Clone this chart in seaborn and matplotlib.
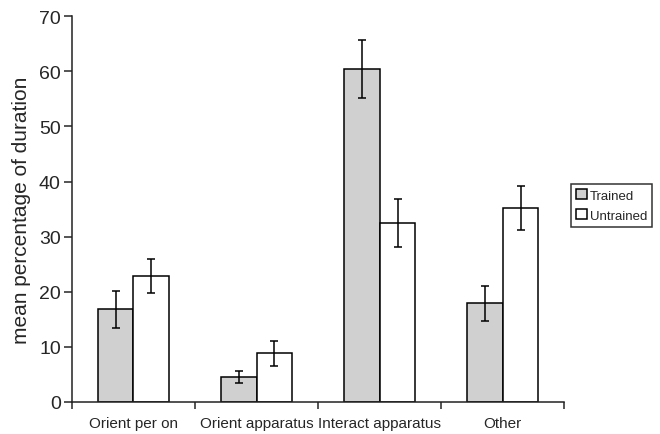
import pandas as pd
import numpy as np
import seaborn as sns
import matplotlib.pyplot as plt

# data
categories = ["Orient per on", "Orient apparatus", "Interact apparatus", "Other"]
trained = [16.8, 4.6, 60.4, 17.9]
untrained = [22.9, 8.8, 32.5, 35.2]
trained_err = [3.4, 1.1, 5.2, 3.2]
untrained_err = [3.1, 2.3, 4.4, 4.0]
groups = ["Trained", "Untrained"]

df = pd.DataFrame({
    "category": categories * 2,
    "group": [groups[0]] * 4 + [groups[1]] * 4,
    "value": trained + untrained,
    "err": trained_err + untrained_err,
})

sns.set_style("ticks")
plt.rcParams["font.family"] = ["Liberation Sans", "DejaVu Sans"]

fig = plt.figure(figsize=(6.6, 4.35), dpi=100)
ax = fig.add_axes([0.109, 0.0736, 0.746, 0.887])

sns.barplot(data=df, x="category", y="value", hue="group", order=categories,
            hue_order=groups, palette=["#d0d0d0", "white"], width=0.58,
            edgecolor="black", linewidth=1.1, errorbar=None, ax=ax)

# error bars at the bar centres
for cont, g in zip(ax.containers, groups):
    sub = df[df["group"] == g].set_index("category").loc[categories]
    xs = [p.get_x() + p.get_width() / 2 for p in cont.patches]
    ax.errorbar(xs, sub["value"], yerr=sub["err"], fmt="none", ecolor="black",
                elinewidth=1.1, capsize=3, capthick=1.1)

ax.set_xlim(-0.5, 3.5)
ax.set_ylim(0, 70)
ax.set_yticks(range(0, 71, 10))
ax.set_xticks(range(4))
ax.set_xticklabels(categories, fontsize=11)
ax.set_xticks(np.arange(-0.5, 4, 1), minor=True)
ax.tick_params(axis="x", which="major", length=0, pad=10)
ax.tick_params(axis="x", which="minor", length=5, width=1.1, direction="out")
ax.tick_params(axis="y", labelsize=14, length=6, width=1.1, pad=2)
ax.set_xlabel("")
ax.set_ylabel("mean percentage of duration", fontsize=15, labelpad=6)
for s in ["left", "bottom"]:
    ax.spines[s].set_linewidth(1.1)
    ax.spines[s].set_color("#222222")
sns.despine(ax=ax)

leg = ax.legend(loc="upper left", bbox_to_anchor=(1.013, 0.565), fontsize=9.5,
                frameon=True, fancybox=False, edgecolor="black",
                handlelength=0.8, handleheight=0.8, handletextpad=0.25,
                borderpad=0.4, labelspacing=0.55, borderaxespad=0)
leg.get_frame().set_linewidth(1.1)

fig.savefig("out.png", dpi=100)
